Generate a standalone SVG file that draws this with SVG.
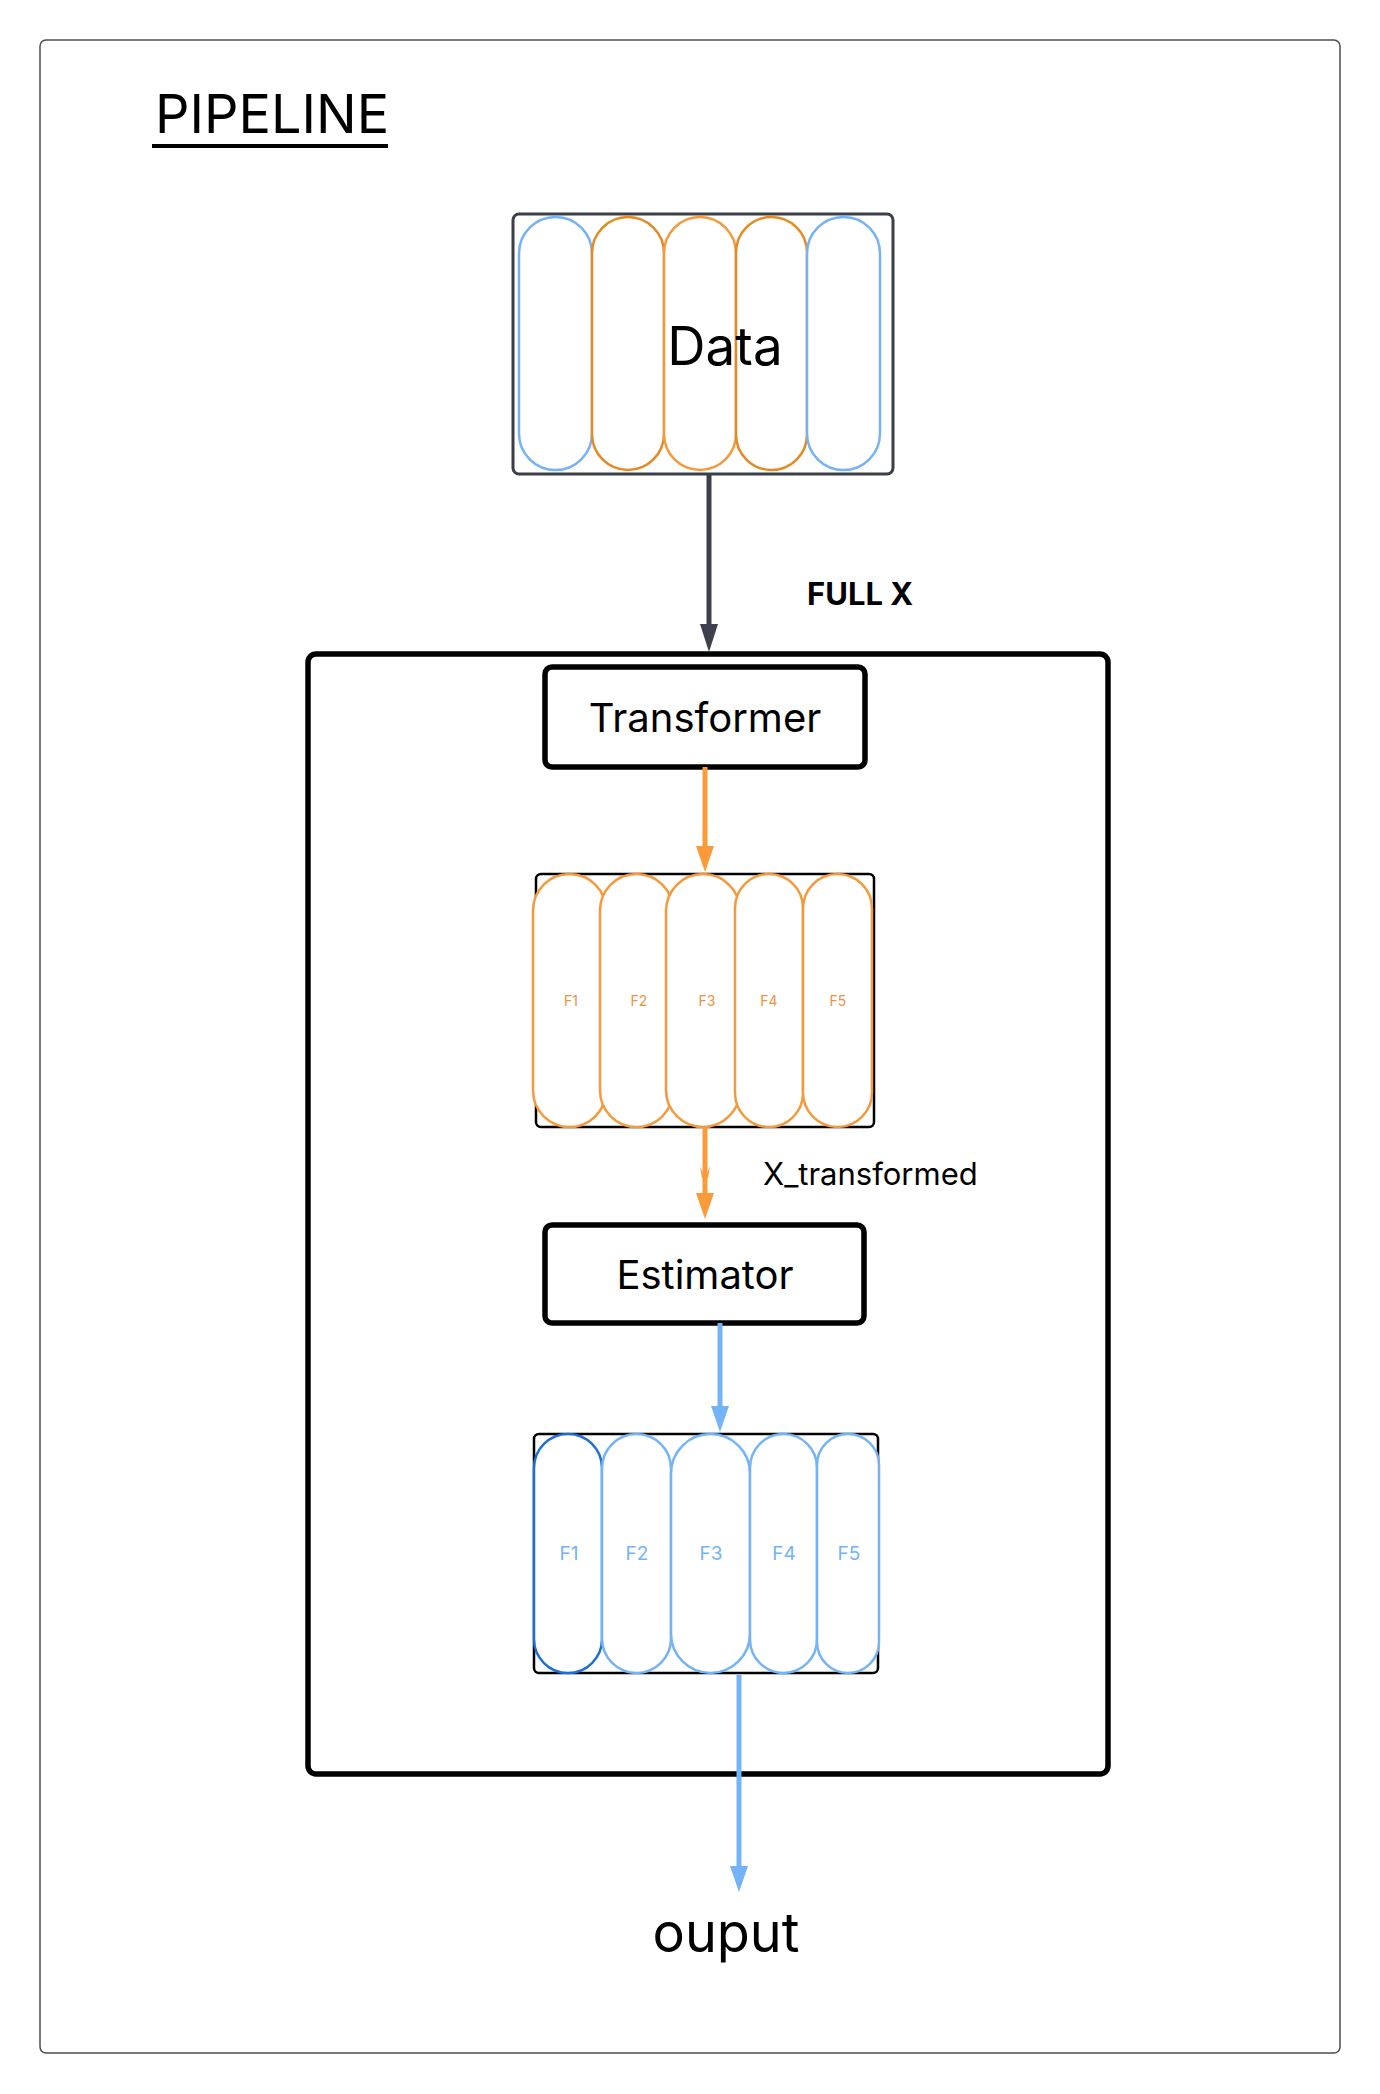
<svg xmlns="http://www.w3.org/2000/svg" width="1380" height="2094" viewBox="0 0 1380 2094">
<style>
  text { font-family: Inter, "Liberation Sans", sans-serif; fill: #000; }
  .frame { fill: none; stroke: #4b4d52; stroke-width: 1.5; }
  .box { fill: #fff; stroke: #000; stroke-width: 5.5; }
  .fbox { fill: #fff; stroke: #000; stroke-width: 2.5; }
  .pill { fill: #fff; stroke-width: 2.5; }
  .blue { stroke: #74b3f7; }
  .dblue { stroke: #1f6fd6; }
  .org { stroke: #f59a3c; }
  .dorg { stroke: #e38a22; }
  .flab-o { font-size: 14px; fill: #ec9443; text-anchor: middle; }
  .flab-b { font-size: 19px; fill: #74b3f7; text-anchor: middle; }
  .conn { fill: none; stroke-width: 5; }
</style>
<defs>
  <marker id="ahDark" markerUnits="userSpaceOnUse" markerWidth="28" markerHeight="18" refX="6" refY="9" orient="auto">
    <path d="M0,0 L28,9 L0,18 z" fill="#3c414d"/>
  </marker>
  <marker id="ahOrange" markerUnits="userSpaceOnUse" markerWidth="26" markerHeight="18" refX="6" refY="9" orient="auto">
    <path d="M0,0 L26,9 L0,18 z" fill="#fb9a38"/>
  </marker>
  <marker id="ahBlue" markerUnits="userSpaceOnUse" markerWidth="26" markerHeight="18" refX="6" refY="9" orient="auto">
    <path d="M0,0 L26,9 L0,18 z" fill="#74b3f7"/>
  </marker>
</defs>

<rect id="frame" class="frame" x="40" y="40" width="1300" height="2013" rx="6"/>

<g id="title">
  <text x="155" y="133" font-size="54">PIPELINE</text>
  <rect x="152" y="144" width="236" height="4" fill="#000"/>
</g>

<g id="pipeline">
  <rect class="box" x="308" y="654" width="800" height="1120" rx="8"/>
</g>

<g id="data">
  <rect x="513" y="214" width="380" height="260" rx="6" fill="#fff" stroke="#3b3f47" stroke-width="3"/>
  <rect class="pill blue" x="519" y="217" width="73" height="253" rx="36.5"/>
  <rect class="pill dorg" x="592" y="217" width="72" height="253" rx="36"/>
  <rect class="pill org" x="664" y="217" width="72" height="253" rx="36"/>
  <rect class="pill dorg" x="736" y="217" width="71" height="253" rx="35.5"/>
  <rect class="pill blue" x="807" y="217" width="73" height="253" rx="36.5"/>
  <text x="725" y="365" font-size="53" text-anchor="middle">Data</text>
</g>

<g id="transformer">
  <rect class="box" x="545" y="667" width="320" height="100" rx="7"/>
  <text x="705" y="732" font-size="40" text-anchor="middle">Transformer</text>
</g>

<g id="x-transformed-features">
  <rect class="fbox" x="536" y="874" width="338" height="253" rx="5"/>
  <rect class="pill org" x="533" y="874" width="73" height="253" rx="36.5"/>
  <rect class="pill org" x="600" y="874" width="73" height="253" rx="36.5"/>
  <rect class="pill org" x="666" y="874" width="74" height="253" rx="37"/>
  <rect class="pill org" x="735" y="874" width="68" height="253" rx="34"/>
  <rect class="pill org" x="803" y="874" width="69" height="253" rx="34.5"/>
  <text class="flab-o" x="571" y="1006">F1</text>
  <text class="flab-o" x="639" y="1006">F2</text>
  <text class="flab-o" x="707" y="1006">F3</text>
  <text class="flab-o" x="769" y="1006">F4</text>
  <text class="flab-o" x="838" y="1006">F5</text>
</g>

<g id="estimator">
  <rect class="box" x="545" y="1225" width="319" height="98" rx="7"/>
  <text x="705" y="1289" font-size="40" text-anchor="middle">Estimator</text>
</g>

<g id="estimator-output-features">
  <rect class="fbox" x="534" y="1434" width="344" height="239" rx="5"/>
  <rect class="pill dblue" x="534" y="1434" width="68" height="239" rx="34"/>
  <rect class="pill blue" x="602" y="1434" width="69" height="239" rx="34.5"/>
  <rect class="pill blue" x="671" y="1434" width="79" height="239" rx="39.5"/>
  <rect class="pill blue" x="750" y="1434" width="67" height="239" rx="33.5"/>
  <rect class="pill blue" x="817" y="1434" width="62" height="239" rx="31"/>
  <text class="flab-b" x="569" y="1560">F1</text>
  <text class="flab-b" x="637" y="1560">F2</text>
  <text class="flab-b" x="711" y="1560">F3</text>
  <text class="flab-b" x="784" y="1560">F4</text>
  <text class="flab-b" x="849" y="1560">F5</text>
</g>

<g id="output">
  <text x="726" y="1952" font-size="54" text-anchor="middle">ouput</text>
</g>

<g id="connectors">
  <line class="conn" x1="709" y1="474" x2="709" y2="630" stroke="#3c414d" stroke-width="6" marker-end="url(#ahDark)"/>
  <text x="807" y="605" font-size="31" font-weight="bold">FULL X</text>
  <line class="conn" x1="705" y1="767" x2="705" y2="852" stroke="#fb9a38" marker-end="url(#ahOrange)"/>
  <line class="conn" x1="705" y1="1127" x2="705" y2="1199" stroke="#fb9a38" marker-end="url(#ahOrange)"/>
  <path d="M700,1166 L705,1178 L710,1166 L708,1178 L702,1178 z" fill="#fb9a38"/>
  <text x="763" y="1185" font-size="31">X_transformed</text>
  <line class="conn" x1="720" y1="1323" x2="720" y2="1412" stroke="#74b3f7" marker-end="url(#ahBlue)"/>
  <line class="conn" x1="739" y1="1675" x2="739" y2="1872" stroke="#74b3f7" marker-end="url(#ahBlue)"/>
</g>
</svg>
